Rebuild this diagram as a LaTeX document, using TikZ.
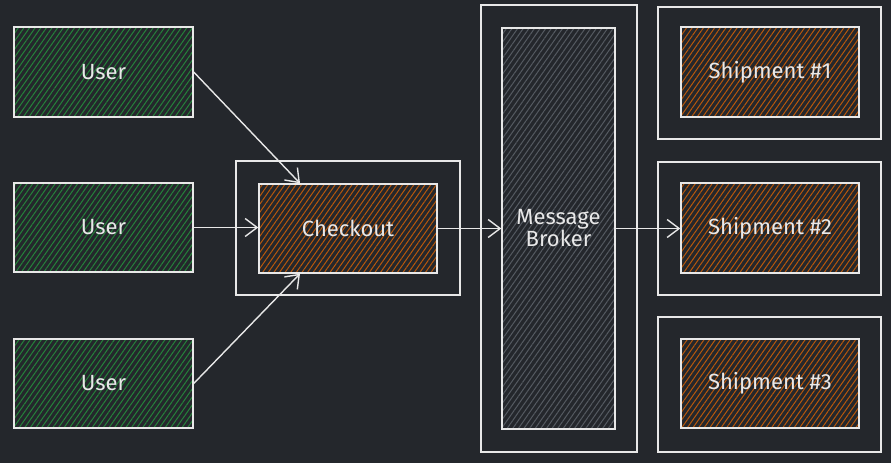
\documentclass[tikz,border=0pt]{standalone}
\usepackage{fontspec}
\setmainfont{Fira Sans}
\usetikzlibrary{arrows.meta,patterns.meta}
\definecolor{bg}{HTML}{24272C}
\definecolor{ink}{HTML}{E8E8E8}
\definecolor{hgreen}{HTML}{24833A}
\definecolor{horange}{HTML}{B8580C}
\definecolor{hgray}{HTML}{555A61}
\tikzset{
  box/.style={draw=ink, line width=1.4pt, text=ink, font=\fontsize{22}{25}\selectfont, align=center, inner sep=0pt},
  hatch/.style={pattern={Lines[angle=55,distance=4.6pt,line width=1pt]}, pattern color=#1},
  frame/.style={draw=ink, line width=1.4pt},
  conn/.style={draw=ink, line width=1.4pt, -{Straight Barb[length=12pt,width=18pt,line width=1.4pt]}}
}
\begin{document}
\begin{tikzpicture}[x=1pt,y=-1pt]
\fill[bg] (0,0) rectangle (891,463);
\useasboundingbox (0,0) rectangle (891,463);
% frames
\draw[frame] (236,161) rectangle (460,295);
\draw[frame] (481,5) rectangle (637,452);
\draw[frame] (658,7) rectangle (881,139);
\draw[frame] (658,162) rectangle (881,295);
\draw[frame] (658,317) rectangle (881,452);
% users
\path[hatch=hgreen] (14,27) rectangle (193,117);
\node[box, minimum width=179pt, minimum height=90pt] (u1) at (103.5,72) {User};
\path[hatch=hgreen] (14,183) rectangle (193,272);
\node[box, minimum width=179pt, minimum height=89pt] (u2) at (103.5,227.5) {User};
\path[hatch=hgreen] (14,339) rectangle (193,428);
\node[box, minimum width=179pt, minimum height=89pt] (u3) at (103.5,383.5) {User};
% checkout
\path[hatch=horange] (259,184) rectangle (437,273);
\node[box, minimum width=178pt, minimum height=89pt] (co) at (348,228.5) {Checkout};
% broker
\path[hatch=hgray] (502,28) rectangle (615,429);
\node[box, minimum width=113pt, minimum height=401pt] (mb) at (558.5,228.5) {Message\\[-3pt]Broker};
% shipments
\path[hatch=horange] (681,27) rectangle (859,117);
\node[box, minimum width=178pt, minimum height=90pt] (s1) at (770,72) {Shipment \#1};
\path[hatch=horange] (681,183) rectangle (859,273);
\node[box, minimum width=178pt, minimum height=90pt] (s2) at (770,228) {Shipment \#2};
\path[hatch=horange] (681,339) rectangle (859,428);
\node[box, minimum width=178pt, minimum height=89pt] (s3) at (770,383.5) {Shipment \#3};
% connectors
\draw[conn] (u1.east) -- ([xshift=-48pt]co.north);
\draw[conn] (u2.east) -- (u2.east -| co.west);
\draw[conn] (u3.east) -- ([xshift=-48pt]co.south);
\draw[conn] (co.east) -- (co.east -| mb.west);
\draw[conn] (mb.east) -- (mb.east -| s2.west);
\end{tikzpicture}
\end{document}
